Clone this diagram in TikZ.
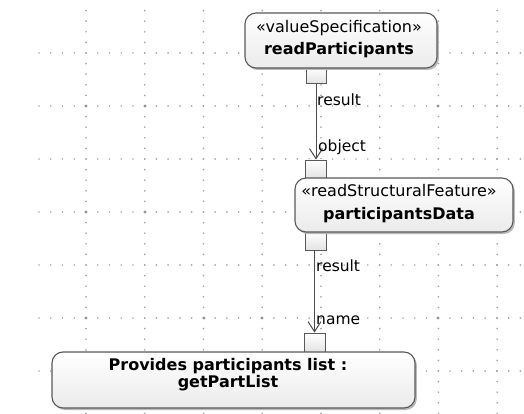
\documentclass[tikz,border=0pt]{standalone}
\usepackage{fontspec}
\setmainfont{DejaVu Sans}
\usetikzlibrary{arrows.meta,shadows}
\begin{document}
\begin{tikzpicture}[x=1pt,y=-1pt,
  griddot/.style={fill=gray!70},
  gridknot/.style={fill=gray!85},
  actbox/.style={draw=gray!70!black, line width=1.1pt, rounded corners=11pt,
    top color=white, bottom color=gray!16,
    drop shadow={shadow xshift=1.8pt, shadow yshift=-2pt, fill=gray!55, opacity=1},
    inner sep=0pt},
  boxtext/.style={align=center, inner sep=0pt},
  pinbox/.style={draw=gray!70!black, line width=0.9pt, top color=white,
    bottom color=gray!22, inner sep=0pt},
  flow/.style={draw=black!70, line width=1pt,
    -{Straight Barb[length=10pt,width=13pt,line width=1pt]}},
  pinlabel/.style={anchor=west, inner sep=1pt, font=\fontsize{15.5}{18}\selectfont}
]
\useasboundingbox (0,0) rectangle (524,414);

% dotted background grid
\foreach \r in {53,106,...,371} {
  \foreach \i in {0,...,41} {
    \fill[griddot] ({39.04+11.74*\i},\r) circle (0.95pt);
  }
}
\foreach \c in {0,...,7} {
  \foreach \j in {1,...,39} {
    \fill[griddot] ({86+58.74*\c},{10.6*\j}) circle (0.95pt);
  }
}
\foreach \p in {(86,106),(145,106),(86,212),(145,212),(438,106),(86,318),(204,318),(262,318),(438,318)}
  \fill[gridknot] \p circle (1.7pt);

% pins
\node[pinbox, minimum width=20pt, minimum height=16pt] (p1) at (316,75.5) {};
\node[pinbox, minimum width=21pt, minimum height=18pt] (p2) at (316,169) {};
\node[pinbox, minimum width=21pt, minimum height=18pt] (p3) at (316,241) {};
\node[pinbox, minimum width=21pt, minimum height=19pt] (p4) at (314.5,342.5) {};

% action boxes
\node[actbox, minimum width=192pt, minimum height=55pt] (rp) at (341,40.5) {};
\node[boxtext, font=\fontsize{16}{22}\selectfont] (rpt) at (339,39)
  {«valueSpecification»\\ \bfseries readParticipants};

\node[actbox, minimum width=218pt, minimum height=54pt] (pd) at (404,205) {};
\node[boxtext, font=\fontsize{16}{23}\selectfont] (pdt) at (399,203.5)
  {«readStructuralFeature»\\ \bfseries participantsData};

\node[actbox, minimum width=363pt, minimum height=56pt] (gp) at (233.5,380) {};
\node[boxtext, font=\fontsize{16}{17}\selectfont\bfseries] (gpt) at (228,375)
  {Provides participants list :\\ getPartList};

% object flows
\draw[flow] (p1.south) -- (p2.north);
\draw[flow] (p4.north |- p3.south) -- (p4.north);

% pin labels
\node[pinlabel] (l1) at (316,100) {result};
\node[pinlabel] (l2) at (317,147) {object};
\node[pinlabel] (l3) at (315,266) {result};
\node[pinlabel] (l4) at (315,320) {name};
\end{tikzpicture}
\end{document}
